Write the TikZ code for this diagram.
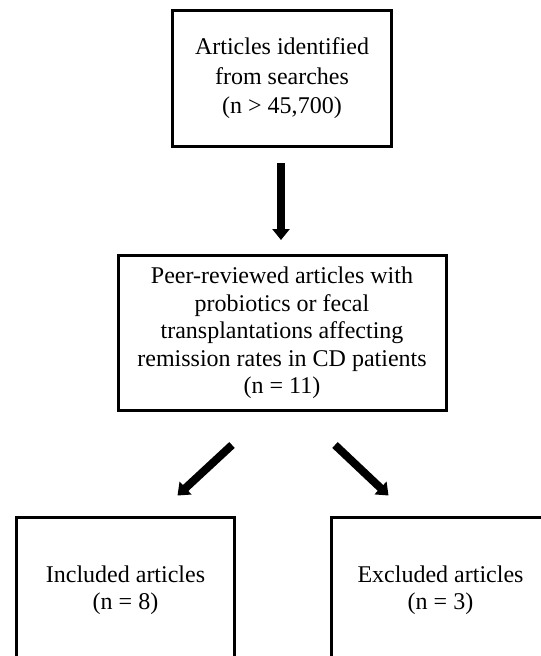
\documentclass[tikz,border=0pt]{standalone}
\usepackage{fontspec}
\setmainfont{Liberation Serif}
\usetikzlibrary{arrows.meta, calc}

\begin{document}
\begin{tikzpicture}[
  x=1bp, y=-1bp,
  font=\fontsize{24bp}{27.5bp}\selectfont,
  box/.style={draw, line width=3bp, inner sep=0pt, align=center,
              minimum width=#1},
  fat/.style={line width=8bp, -{Triangle[width=17bp, length=11bp]}},
]
\clip (0,0) rectangle (541,656);

\node[box=219bp, minimum height=136bp,
      font=\fontsize{24bp}{29.5bp}\selectfont] (search) at (282, 78.5)
  {Articles identified\\from searches\\(n > 45,700)};

\node[box=328bp, minimum height=155bp] (review) at (282, 333)
  {Peer-reviewed articles with\\probiotics or fecal\\transplantations affecting\\remission rates in CD patients\\(n = 11)};

\node[box=218bp, minimum height=146bp] (incl) at (125.5, 590)
  {Included articles\\(n = 8)};
\node[box=218bp, minimum height=146bp] (excl) at (440.5, 590)
  {Excluded articles\\(n = 3)};

\draw[fat, shorten <=15bp, shorten >=14bp] ($(search.south)+(-1,0)$) -- ($(review.north)+(-1,0)$);
\draw[fat] ($(review.south)+(-50,33)$) -- ($(incl.north)+(52,-20)$);
\draw[fat] ($(review.south)+(53,33)$) -- ($(excl.north)+(-52,-20)$);

\end{tikzpicture}
\end{document}
